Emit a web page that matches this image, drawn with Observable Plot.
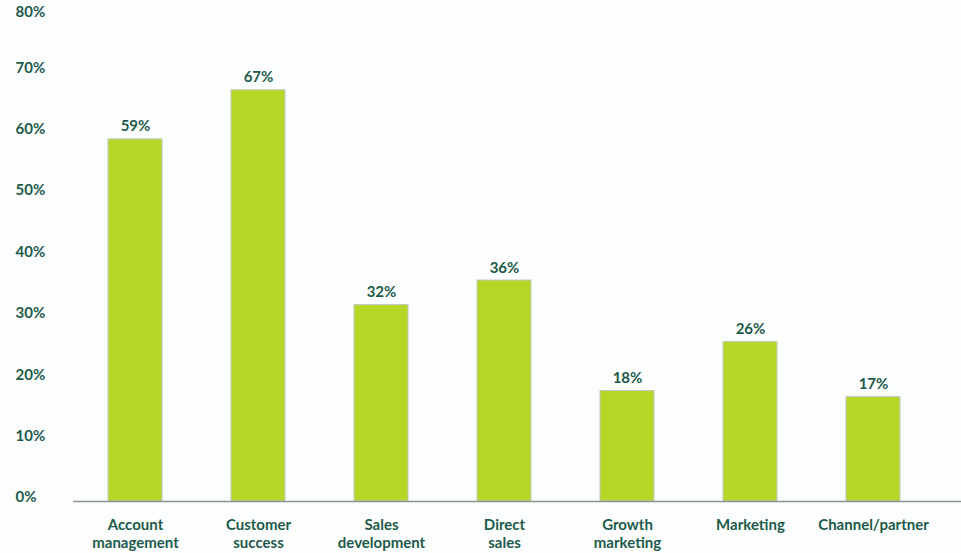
<!DOCTYPE html>
<html>
<head>
<meta charset="utf-8">
<script src="https://cdn.jsdelivr.net/npm/d3@7"></script>
<script src="https://cdn.jsdelivr.net/npm/@observablehq/plot@0.6"></script>
<style>
  html, body { margin: 0; padding: 0; background: #fcfefe; }
  #chart svg { display: block; background: #fcfefe; }
</style>
</head>
<body>
<div id="chart"></div>
<script>
const categories = ["Account\nmanagement", "Customer\nsuccess", "Sales\ndevelopment", "Direct\nsales", "Growth\nmarketing", "Marketing", "Channel/partner"];
const values = [59, 67, 32, 36, 18, 26, 17];
const yTicks = [0, 10, 20, 30, 40, 50, 60, 70, 80];

const data = categories.map((c, i) => ({category: c, value: values[i]}));
const ink = "#1d5a4b";

const chart = Plot.plot({
  width: 961,
  height: 553,
  marginTop: 10,
  marginBottom: 52,
  marginLeft: 73,
  marginRight: 0,
  style: {fontFamily: "Lato, sans-serif", background: "#fcfefe"},
  x: {domain: categories, range: [73, 936], paddingInner: 0.56, paddingOuter: 0.28, label: null},
  y: {domain: [0, 80], label: null, axis: null},
  marks: [
    Plot.barY(data, {x: "category", y: "value", fill: "#b6d628", stroke: "#c2c7c4", strokeWidth: 1}),
    Plot.ruleY([0], {stroke: "#8e9492", strokeWidth: 1.5}),
    Plot.text(data, {x: "category", y: "value", text: d => d.value + "%", lineAnchor: "bottom", dy: -8, fill: ink, fontSize: 15, fontWeight: "bold"}),
    Plot.text(yTicks.filter(t => t < 80), {y: d => d, text: d => d + "%", frameAnchor: "left", textAnchor: "start", dx: -58, dy: -4, fill: ink, fontSize: 15, fontWeight: "bold"}),
    Plot.text(yTicks.filter(t => t >= 80), {y: d => d, text: d => d + "%", frameAnchor: "left", textAnchor: "start", dx: -58, dy: 2, fill: ink, fontSize: 15, fontWeight: "bold"}),
    Plot.axisX({tickSize: 0, tickPadding: 16, fontSize: 15, fontWeight: "bold", fill: ink, lineHeight: 1.2, label: null})
  ]
});
document.getElementById("chart").appendChild(chart);
</script>
</body>
</html>
